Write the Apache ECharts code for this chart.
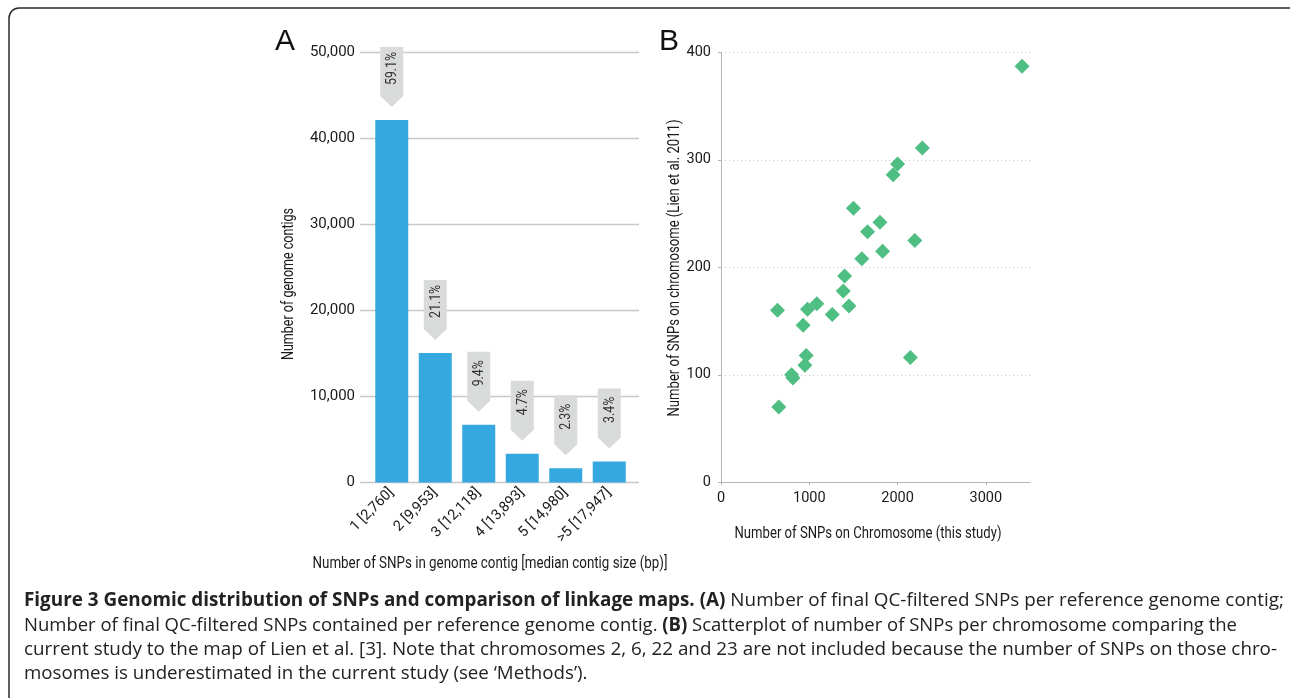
<!DOCTYPE html>
<html>
<head>
<meta charset="utf-8">
<script src="https://cdn.jsdelivr.net/npm/echarts@6/dist/echarts.min.js"></script>
<style>
html,body{margin:0;padding:0;background:#fff;}
#c{width:1290px;height:698px;}
</style>
</head>
<body>
<div id="c"></div>
<script>
// ---- Panel A data ----
const categories = ['1 [2,760]', '2 [9,953]', '3 [12,118]', '4 [13,893]', '5 [14,980]', '>5 [17,947]'];
const contigCounts = [42100, 15050, 6700, 3350, 1650, 2450];
const percentLabels = ['59.1%', '21.1%', '9.4%', '4.7%', '2.3%', '3.4%'];
// ---- Panel B data ----
const snpsThisStudy = [3410, 2280, 2000, 1950, 1500, 1800, 1660, 2195, 1830, 1595, 1400, 1385,
                       640, 980, 1085, 1260, 1450, 930, 965, 950, 800, 815, 2145, 655];
const snpsLien2011  = [387, 311, 296, 286, 255, 242, 233, 225, 215, 208, 192, 178,
                       160, 161, 166, 156, 164, 146, 118, 109, 100, 97, 116, 70];
// ---- Text ----
const nameAY = 'Number of genome contigs';
const nameAX = 'Number of SNPs in genome contig [median contig size (bp)]';
const nameBY = 'Number of SNPs on chromosome (Lien et al. 2011)';
const nameBX = 'Number of SNPs on Chromosome (this study)';
const captionLines = [
  [['b', 'Figure 3 Genomic distribution of SNPs and comparison of linkage maps. (A)'], ['n', ' Number of final QC-filtered SNPs per reference genome contig;']],
  [['n', 'Number of final QC-filtered SNPs contained per reference genome contig. '], ['b', '(B)'], ['n', ' Scatterplot of number of SNPs per chromosome comparing the']],
  [['n', 'current study to the map of Lien et al. [3]. Note that chromosomes 2, 6, 22 and 23 are not included because the number of SNPs on those chro-']],
  [['n', 'mosomes is underestimated in the current study (see \u2018Methods\u2019).']]
];

const AX = "Roboto, 'Noto Sans', sans-serif";
const CAP = "'Open Sans', 'Noto Sans', sans-serif";
const CAPSIZE = 18.7;

const mctx = document.createElement('canvas').getContext('2d');
function tw(text, font) { mctx.font = font; return mctx.measureText(text).width; }

const chart = echarts.init(document.getElementById('c'), null, {renderer: 'canvas'});
const scatterData = snpsThisStudy.map((x, i) => [x, snpsLien2011[i]]);
const fmtComma = v => v.toLocaleString('en-US');

const NAMEFONT = '16px ' + AX;
function nameText(text, x, y, target, vertical) {
  const s = target / tw(text, NAMEFONT);
  return {type: 'text', x: x, y: y, rotation: vertical ? Math.PI / 2 : 0, scaleX: s, silent: true,
    style: {text: text, font: NAMEFONT, fill: '#1a1a1a', textAlign: 'center', textVerticalAlign: 'middle'}};
}

const PFONT = '15px ' + AX;
const pScale = 33 / tw('59.1%', PFONT);

const capTargets = [1260, 1213, 1253, null];
const capGraphics = captionLines.map((segs, li) => {
  const fb = 'bold ' + CAPSIZE + 'px ' + CAP, fn = CAPSIZE + 'px ' + CAP;
  let w = 0;
  segs.forEach(s => { w += tw(s[1], s[0] === 'b' ? fb : fn); });
  const sc = capTargets[li] ? capTargets[li] / w : 1;
  return {type: 'text', x: 24, y: 601 + li * 24.3, scaleX: sc, silent: true,
    style: {text: segs.map(s => '{' + s[0] + '|' + s[1] + '}').join(''), textVerticalAlign: 'middle',
      rich: {b: {font: fb, fill: '#222'}, n: {font: fn, fill: '#222'}}}};
});

const option = {
  animation: false,
  backgroundColor: '#fff',
  grid: [
    {left: 360, width: 279, top: 52, height: 430.5},   // A gridlines
    {left: 370, width: 261, top: 52, height: 430.5},   // A bars
    {left: 721, width: 309, top: 52.3, height: 430}    // B scatter
  ],
  xAxis: [
    {gridIndex: 0, type: 'value', min: 0, max: 1, show: false},
    {gridIndex: 1, type: 'category', data: categories,
     axisLine: {show: false}, axisTick: {show: false},
     axisLabel: {rotate: 45, margin: 8, fontSize: 14.5, color: '#1a1a1a', fontFamily: AX, interval: 0}},
    {gridIndex: 2, type: 'value', min: 0, max: 3500, interval: 1000,
     axisLine: {show: true, lineStyle: {color: '#b5b5b5', width: 1}},
     axisTick: {show: true, length: 3, lineStyle: {color: '#b5b5b5'}},
     axisLabel: {showMaxLabel: false, fontSize: 14.5, color: '#1a1a1a', fontFamily: AX, margin: 9,
                 formatter: v => String(v)},
     splitLine: {show: false}}
  ],
  yAxis: [
    {gridIndex: 0, type: 'value', min: 0, max: 50000, interval: 10000,
     axisLine: {show: false}, axisTick: {show: false},
     axisLabel: {formatter: fmtComma, fontSize: 15, color: '#1a1a1a', fontFamily: AX, margin: 5},
     splitLine: {show: true, lineStyle: {color: '#c8c8c8', width: 1.3}}},
    {gridIndex: 1, type: 'value', min: 0, max: 50000, show: false},
    {gridIndex: 2, type: 'value', min: 0, max: 400, interval: 100,
     axisLine: {show: true, lineStyle: {color: '#b5b5b5', width: 1}},
     axisTick: {show: true, length: 3, lineStyle: {color: '#b5b5b5'}},
     axisLabel: {fontSize: 14.5, color: '#1a1a1a', fontFamily: AX, margin: 10},
     splitLine: {show: true, lineStyle: {color: '#c8c8c8', type: [1, 3], width: 1}}}
  ],
  series: [
    {type: 'bar', xAxisIndex: 1, yAxisIndex: 1, data: contigCounts, barWidth: 33,
     itemStyle: {color: '#35a8e0'}, z: 3},
    {type: 'custom', xAxisIndex: 1, yAxisIndex: 1,
     data: contigCounts.map((v, i) => [i, v]),
     renderItem: function (params, api) {
       const p = api.coord([api.value(0), api.value(1)]);
       const cx = p[0];
       const tip = p[1] - 13;
       const hw = 11.5;
       const top = tip - 60;
       return {
         type: 'group',
         children: [
           {type: 'polygon',
            shape: {points: [[cx - hw, top], [cx + hw, top], [cx + hw, tip - 11], [cx, tip], [cx - hw, tip - 11]]},
            style: {fill: '#d9dada'}},
           {type: 'text', x: cx + 0.5, y: top + 21.5, rotation: Math.PI / 2, scaleX: pScale,
            style: {text: percentLabels[params.dataIndex], fill: '#333', font: PFONT,
                    textAlign: 'center', textVerticalAlign: 'middle'}}
         ]
       };
     }, z: 4},
    {type: 'scatter', xAxisIndex: 2, yAxisIndex: 2, data: scatterData,
     symbol: 'diamond', symbolSize: [15, 15],
     itemStyle: {color: '#4fbe82', opacity: 1}, z: 3}
  ],
  graphic: [
    {type: 'rect', shape: {x: 9, y: 8, width: 1310, height: 720, r: 10},
     style: {fill: 'none', stroke: '#2a2a2a', lineWidth: 1.5}, silent: true},
    {type: 'text', left: 275, top: 27, style: {text: 'A', font: '30px "Liberation Sans", Arial, sans-serif', fill: '#111'}},
    {type: 'text', left: 659, top: 27, style: {text: 'B', font: '30px "Liberation Sans", Arial, sans-serif', fill: '#111'}},
    nameText(nameAY, 289, 284, 152, true),
    nameText(nameBY, 675, 268, 297, true),
    nameText(nameAX, 490, 564, 355, false),
    nameText(nameBX, 868, 534, 267, false)
  ].concat(capGraphics)
};
chart.setOption(option);
</script>
</body>
</html>
